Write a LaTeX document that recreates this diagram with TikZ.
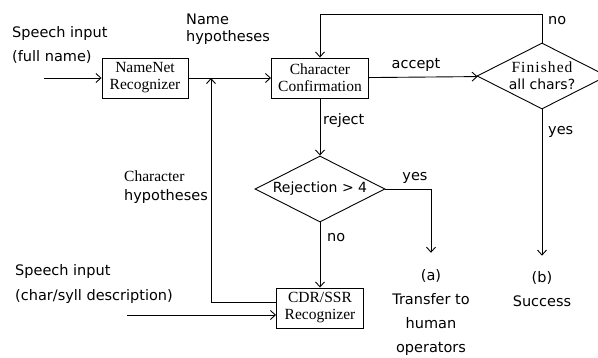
\documentclass[tikz,border=0pt]{standalone}
\usepackage{fontspec}
\setmainfont{Liberation Serif}
\setsansfont{DejaVu Sans}
\usetikzlibrary{positioning}
\usetikzlibrary{shapes.geometric}
\usetikzlibrary{arrows.meta}

\begin{document}
\begin{tikzpicture}[x = 1pt, y = -1pt,
box/.style = {shape = rectangle, draw, line width = 0.9pt, minimum width = 87pt, minimum height = 40pt, inner sep = 0pt, align = center, font = \rmfamily\fontsize{15.5}{17}\selectfont},
test/.style = {shape = diamond, aspect = 2, draw, line width = 0.9pt, minimum width = 130pt, minimum height = 66pt, inner sep = 0pt, align = center, font = \sffamily\fontsize{14}{17}\selectfont},
lbl/.style = {inner sep = 0pt, align = left, font = \sffamily\fontsize{14.5}{24}\selectfont},
flow/.style = {-{Straight Barb[length = 5pt, width = 9pt]}, line width = 0.9pt},
]
\useasboundingbox (0, 0) rectangle (598, 358);

\node[box, minimum width = 86pt] (nn) at (145, 78) {NameNet\\Recognizer};
\node[box, minimum width = 97pt] (cc) at (320, 78) {Character\\Confirmation};
\node[test] (fin) at (542, 76) {{\rmfamily\fontsize{15.5}{17}\selectfont\addfontfeatures{LetterSpace = 7}Finished}\\all chars?};
\node[test] (rej) at (320, 189) {Rejection > 4};
\node[box] (cdr) at (320, 308) {CDR/SSR\\Recognizer};

\node[lbl, align = center] (opa) at (431, 313) {(a)\\Transfer to\\human\\operators};
\node[lbl, align = center] (ok) at (542, 289.5) {(b)\\Success};

\coordinate (in1) at (44, 78);
\coordinate (in2) at (127, 315);
\coordinate (join) at (211, 78);
\coordinate (top) at (542, 14);

% inputs
\node[lbl, anchor = west] (sp1) at (12, 45) {Speech input\\(full name)};
\node[lbl, anchor = west, font = \sffamily\fontsize{14.5}{25}\selectfont] (sp2) at (15, 284.5) {Speech input\\(char/syll description)};
\node[lbl, anchor = west, font = \sffamily\fontsize{14.5}{17}\selectfont] (nh) at (186, 29.5) {Name\\hypotheses};
\node[lbl, anchor = west, font = \sffamily\fontsize{14.5}{19}\selectfont] (ch) at (124, 187.5) {{\rmfamily\fontsize{15.5}{19}\selectfont Character}\\hypotheses};

% edge labels
\node[lbl] (acc) at (416, 65) {accept};
\node[lbl, anchor = west] (no1) at (548, 21) {no};
\node[lbl, anchor = west] (yes1) at (548, 132) {yes};
\node[lbl, anchor = west] (rjt) at (323, 121) {reject};
\node[lbl] (yes2) at (415, 178) {yes};
\node[lbl, anchor = west] (no2) at (327, 238) {no};

\draw[flow] (in1) -- (nn.west);
\draw[flow] (nn) -- (cc);
\draw[flow] (cc) -- (fin);
\draw[flow] (fin.north) -- (top) -| (cc.north);
\draw[flow] (fin.south) -- ([yshift = 16pt]ok.north);
\draw[flow] (cc) -- (rej);
\draw[flow] (rej.east) -| ([yshift = 17pt]opa.north);
\draw[flow] (rej) -- (cdr);
\draw[flow] ([yshift = 6pt]cdr.west) -| (join);
\draw[flow] (in2) -- (in2 -| cdr.west);
\end{tikzpicture}
\end{document}
